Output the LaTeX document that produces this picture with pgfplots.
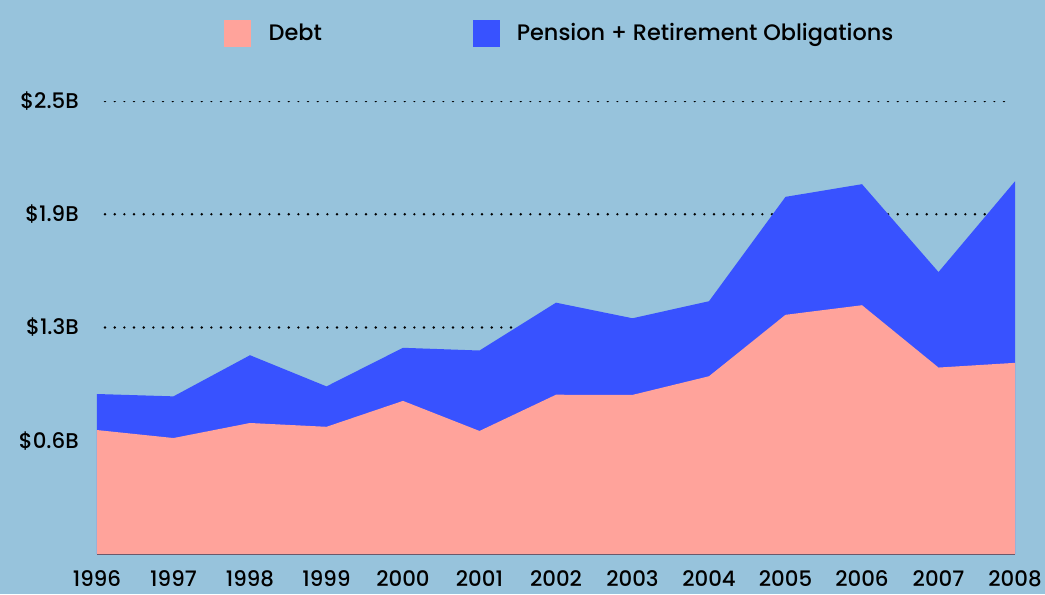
\documentclass[border=0pt]{standalone}
\usepackage{fontspec}
\setmainfont{Poppins}[UprightFont=* Medium]
\usepackage{pgfplots}
\pgfplotsset{compat=1.18}
\definecolor{bg}{HTML}{97C3DC}
\definecolor{debt}{HTML}{FFA39B}
\definecolor{pens}{HTML}{3852FF}
\definecolor{axc}{HTML}{5E4E4E}
\begin{document}
\begin{tikzpicture}
\fill[bg] (-72.75pt,-30pt) rectangle (711pt,415.5pt);
\begin{axis}[
  at={(0pt,0pt)}, anchor=south west, scale only axis,
  width=688.5pt, height=339.75pt,
  xmin=1996, xmax=2008, ymin=0, ymax=2.5,
  axis x line=bottom, axis y line=left,
  x axis line style={-, draw=axc, line width=1.1pt},
  y axis line style={draw=none},
  xtick={1996,1997,1998,1999,2000,2001,2002,2003,2004,2005,2006,2007,2008},
  xticklabels={1996,1997,1998,1999,2000,2001,2002,2003,2004,2005,2006,2007,2008},
  ytick={0.625,1.25,1.875,2.5},
  yticklabels={\$0.6B,\$1.3B,\$1.9B,\$2.5B},
  major tick length=0pt,
  tick label style={font=\fontsize{16}{18}\selectfont, text=black},
  yticklabel style={inner sep=0pt, xshift=-13.5pt},
  xticklabel style={inner sep=0pt, anchor=north, yshift=-12pt},
  legend columns=2,
  legend style={at={(0.5045,1.1501)}, anchor=center, draw=none, fill=none,
    font=\fontsize{16.8}{19}\selectfont,
    /tikz/every even column/.append style={column sep=111pt},
    /tikz/every odd column/.append style={column sep=11pt}},
  legend image code/.code={\path[#1] (0pt,-10.125pt) rectangle (20.25pt,10.125pt);},
]
% dotted guide lines
\addplot[forget plot, black, line width=2pt, line cap=round, dash pattern=on 0pt off 7.25pt]
  coordinates {(1996.105,0.625) (2007.91,0.625)};
\addplot[forget plot, black, line width=2pt, line cap=round, dash pattern=on 0pt off 7.25pt]
  coordinates {(1996.105,1.25) (2007.91,1.25)};
\addplot[forget plot, black, line width=2pt, line cap=round, dash pattern=on 0pt off 7.25pt]
  coordinates {(1996.105,1.875) (2007.91,1.875)};
\addplot[forget plot, black, line width=2pt, line cap=round, dash pattern=on 0pt off 7.25pt]
  coordinates {(1996.105,2.5) (2007.91,2.5)};
% total (debt + pension)
\addplot[forget plot, fill=pens, draw=none] coordinates {
  (1996,0.883) (1997,0.870) (1998,1.097) (1999,0.925) (2000,1.138)
  (2001,1.123) (2002,1.387) (2003,1.301) (2004,1.395) (2005,1.971)
  (2006,2.041) (2007,1.556) (2008,2.057)} \closedcycle;
% debt
\addplot[forget plot, fill=debt, draw=none] coordinates {
  (1996,0.684) (1997,0.640) (1998,0.723) (1999,0.702) (2000,0.845)
  (2001,0.679) (2002,0.879) (2003,0.878) (2004,0.981) (2005,1.320)
  (2006,1.373) (2007,1.029) (2008,1.055)} \closedcycle;
\addlegendimage{fill=debt, draw=none}
\addlegendentry{Debt}
\addlegendimage{fill=pens, draw=none}
\addlegendentry{Pension + Retirement Obligations}
\end{axis}
\pgfresetboundingbox
\path[use as bounding box] (-72.75pt,-30pt) rectangle (711pt,415.5pt);
\end{tikzpicture}
\end{document}
